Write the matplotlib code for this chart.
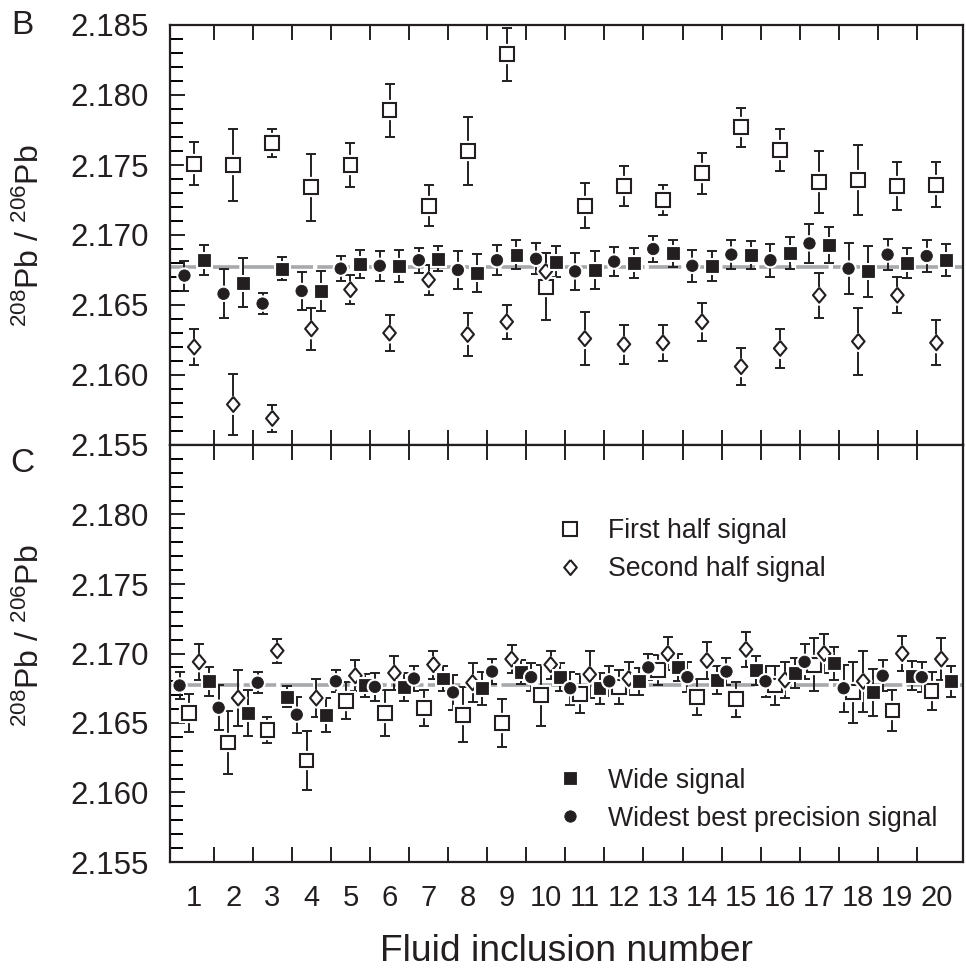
import matplotlib
matplotlib.use("Agg")
import matplotlib.pyplot as plt
import matplotlib.patheffects as pe
from matplotlib.lines import Line2D
from matplotlib.ticker import FormatStrFormatter
from matplotlib import font_manager
import numpy as np

_names = {f.name for f in font_manager.fontManager.ttflist}
NARROW = 'Liberation Sans Narrow' if 'Liberation Sans Narrow' in _names else 'Liberation Sans'

plt.rcParams['font.family'] = ['Liberation Sans', 'DejaVu Sans']
plt.rcParams['mathtext.fontset'] = 'custom'
plt.rcParams['mathtext.rm'] = NARROW
plt.rcParams['mathtext.it'] = NARROW + ':italic'
plt.rcParams['mathtext.bf'] = NARROW + ':bold'
plt.rcParams['mathtext.default'] = 'regular'

# ---------------- data ----------------
inclusions = np.arange(1, 21)
x_labels = [str(i) for i in inclusions]
reference_ratio = 2.1677

# Panel B
first_B = [2.1751, 2.1750, 2.1766, 2.1734, 2.1750, 2.1789, 2.1721, 2.1760, 2.1829, 2.1663,
           2.1721, 2.1735, 2.1725, 2.1744, 2.1777, 2.1761, 2.1738, 2.1739, 2.1735, 2.1736]
first_B_err = [0.00155, 0.0026, 0.0010, 0.0024, 0.00155, 0.0019, 0.00145, 0.0024, 0.0019, 0.0024,
               0.0016, 0.0014, 0.0011, 0.00145, 0.0014, 0.0015, 0.0022, 0.0025, 0.0017, 0.0016]
second_B = [2.1620, 2.1579, 2.1569, 2.1633, 2.1661, 2.1630, 2.1668, 2.1629, 2.1638, 2.1674,
            2.1626, 2.1622, 2.1623, 2.1638, 2.1606, 2.1619, 2.1657, 2.1624, 2.1657, 2.1623]
second_B_err = [0.0013, 0.0022, 0.00095, 0.0015, 0.00105, 0.0013, 0.00105, 0.00155, 0.0012, 0.0013,
                0.0019, 0.0014, 0.0013, 0.00135, 0.0013, 0.0014, 0.0016, 0.0024, 0.0013, 0.0016]
wide_B = [2.1682, 2.1666, 2.1676, 2.1660, 2.1679, 2.1678, 2.1683, 2.1673, 2.1686, 2.1681,
          2.1675, 2.1680, 2.1687, 2.1678, 2.1686, 2.1687, 2.1693, 2.1674, 2.1680, 2.1682]
wide_B_err = [0.00107, 0.00176, 0.0008, 0.0014, 0.0010, 0.00114, 0.0009, 0.00134, 0.00104, 0.00113,
              0.00134, 0.0011, 0.00095, 0.00108, 0.0010, 0.00115, 0.0013, 0.0018, 0.00108, 0.00114]
widest_B = [2.1671, 2.1658, 2.1651, 2.1660, 2.1676, 2.1678, 2.1682, 2.1675, 2.1682, 2.1683,
            2.1674, 2.1681, 2.1690, 2.1678, 2.1686, 2.1682, 2.1694, 2.1676, 2.1686, 2.1685]
widest_B_err = [0.00107, 0.00175, 0.00077, 0.00133, 0.0009, 0.00107, 0.0009, 0.00133, 0.00107, 0.0011,
                0.00134, 0.00105, 0.0009, 0.00113, 0.00104, 0.00117, 0.0014, 0.00182, 0.0011, 0.00117]

# Panel C
first_C = [2.1657, 2.1636, 2.1645, 2.1623, 2.1666, 2.1657, 2.1661, 2.1656, 2.1650, 2.1670,
           2.1671, 2.1676, 2.1688, 2.1669, 2.1667, 2.1677, 2.1692, 2.1672, 2.1659, 2.1673]
first_C_err = [0.00137, 0.00226, 0.00095, 0.0021, 0.00133, 0.00167, 0.0013, 0.0020, 0.0017, 0.0022,
               0.0014, 0.0012, 0.0011, 0.0013, 0.00126, 0.0014, 0.0019, 0.0022, 0.0015, 0.0014]
second_C = [2.1694, 2.1668, 2.1702, 2.1668, 2.1684, 2.1686, 2.1692, 2.1679, 2.1696, 2.1692,
            2.1685, 2.1682, 2.1700, 2.1695, 2.1703, 2.1681, 2.1700, 2.1680, 2.1700, 2.1696]
second_C_err = [0.0013, 0.0020, 0.00087, 0.00135, 0.0011, 0.0012, 0.0010, 0.0014, 0.0010, 0.0010,
                0.0017, 0.0012, 0.0012, 0.0013, 0.00125, 0.0013, 0.0014, 0.0022, 0.00125, 0.0015]
wide_C = [2.1680, 2.1657, 2.1669, 2.1656, 2.1677, 2.1676, 2.1682, 2.1675, 2.1687, 2.1683,
          2.1675, 2.1680, 2.1690, 2.1681, 2.1688, 2.1686, 2.1693, 2.1672, 2.1684, 2.1680]
wide_C_err = [0.00103, 0.00164, 0.00074, 0.00123, 0.00083, 0.0010, 0.00093, 0.00117, 0.00086, 0.0010,
              0.0011, 0.00095, 0.00095, 0.0010, 0.00105, 0.0011, 0.0012, 0.0017, 0.00105, 0.0011]
widest_C = [2.1677, 2.1661, 2.1679, 2.1656, 2.1680, 2.1676, 2.1682, 2.1672, 2.1687, 2.1683,
            2.1675, 2.1680, 2.1690, 2.1683, 2.1687, 2.1680, 2.1694, 2.1675, 2.1684, 2.1683]
widest_C_err = [0.0010, 0.0016, 0.00076, 0.0013, 0.00078, 0.0010, 0.0009, 0.00125, 0.0009, 0.0010,
                0.0012, 0.00107, 0.00093, 0.0011, 0.0010, 0.0011, 0.00125, 0.0017, 0.0011, 0.0011]

series_names = ["First half signal", "Second half signal", "Wide signal", "Widest best precision signal"]

# ---------------- style ----------------
INK = '#231f20'
GRAY = '#a7a9ac'
diamond = [(0, 1), (0.84, 0), (0, -1), (-0.84, 0), (0, 1)]
marker_styles = {
    "First half signal": dict(marker='s', ms=10.0, mfc='white', mew=1.5),
    "Second half signal": dict(marker=diamond, ms=10.8, mfc='white', mew=1.5),
    "Wide signal": dict(marker='s', ms=8.6, mfc=INK, mew=0.6),
    "Widest best precision signal": dict(marker='o', ms=8.2, mfc=INK, mew=0.6),
}

fig = plt.figure(figsize=(9.66, 9.71), dpi=100)
W, H = 966, 971
L, R = 170 / W, 963 / W
axB = fig.add_axes([L, 1 - 445 / H, R - L, 420 / H])
axC = fig.add_axes([L, 1 - 862 / H, R - L, 417 / H])


def draw_series(ax, x, y, e, name, z):
    st = marker_styles[name]
    ax.errorbar(x, y, yerr=e, fmt='none', ecolor=INK, elinewidth=1.4,
                capsize=3.4, capthick=1.4, zorder=2)
    ax.plot(x, y, linestyle='none', marker=st['marker'], ms=st['ms'],
            mfc=st['mfc'], mec=INK, mew=st['mew'], zorder=z,
            path_effects=[pe.withStroke(linewidth=st['mew'] + 3.0, foreground='white')])


def style_axes(ax, yticks, show_xlabels):
    ax.set_xlim(0.38, 20.68)
    ax.set_ylim(2.155, 2.185)
    for s in ax.spines.values():
        s.set_linewidth(1.6)
        s.set_color(INK)
    ax.set_yticks(yticks)
    ax.yaxis.set_major_formatter(FormatStrFormatter('%.3f'))
    ax.set_yticks(np.round(np.arange(2.156, 2.185, 0.001), 3), minor=True)
    ax.tick_params(axis='y', which='major', direction='in', length=10.5, width=1.4,
                   left=True, right=False, labelsize=22.5, pad=15.0, colors=INK)
    ax.tick_params(axis='y', which='minor', direction='in', length=9, width=1.4,
                   left=True, right=False)
    ax.set_xticks(inclusions[:-1] + 0.5)
    ax.set_xticklabels([])
    ax.tick_params(axis='x', which='major', direction='in', length=11, width=1.4,
                   top=True, bottom=True, colors=INK)
    ax.set_xticks(inclusions, minor=True)
    if show_xlabels:
        ax.set_xticklabels(x_labels, minor=True)
    ax.tick_params(axis='x', which='minor', length=0, top=False, bottom=True,
                   labelsize=21, pad=16, labelcolor=INK)


ref_style = dict(color=GRAY, lw=2.6, linestyle=(0, (9, 1.2)), zorder=1)

# Panel B
axB.axhline(reference_ratio, **ref_style)
offB = [0.0, 0.0, 0.25, -0.25]
for (vals, errs), name, off, z in zip(
        [(first_B, first_B_err), (second_B, second_B_err), (wide_B, wide_B_err), (widest_B, widest_B_err)],
        series_names, offB, [3, 4, 5, 6]):
    draw_series(axB, inclusions + off, vals, errs, name, z)
style_axes(axB, np.round(np.arange(2.155, 2.1851, 0.005), 3), False)

# Panel C
axC.axhline(reference_ratio, **ref_style)
offC = [-0.125, 0.125, 0.375, -0.375]
for (vals, errs), name, off, z in zip(
        [(first_C, first_C_err), (second_C, second_C_err), (wide_C, wide_C_err), (widest_C, widest_C_err)],
        series_names, offC, [3, 4, 5, 6]):
    draw_series(axC, inclusions + off, vals, errs, name, z)
style_axes(axC, np.round(np.arange(2.155, 2.1801, 0.005), 3), True)

# Legends (two groups)
def handle(name):
    st = marker_styles[name]
    return Line2D([], [], linestyle='none', marker=st['marker'], ms=st['ms'],
                  mfc=st['mfc'], mec=INK, mew=st['mew'])

leg_kw = dict(loc='upper left', frameon=False, fontsize=19.2, handlelength=1.0,
              handletextpad=0.92, labelspacing=0.45, borderpad=0, borderaxespad=0,
              bbox_transform=fig.transFigure, labelcolor=INK)
leg1 = axC.legend([handle(n) for n in series_names[:2]], series_names[:2],
                  bbox_to_anchor=(557 / W, 1 - 518.0 / H), **leg_kw)
axC.add_artist(leg1)
leg2 = axC.legend([handle(n) for n in series_names[2:]], series_names[2:],
                  bbox_to_anchor=(557 / W, 1 - 767.5 / H), **leg_kw)

# Axis labels and panel letters
ylab = r'$^{208}$Pb / $^{206}$Pb'
ysize = 28 if NARROW != 'Liberation Sans' else 23
fig.text(30 / W, 1 - 236 / H, ylab, rotation=90, ha='center', va='center', fontsize=ysize, color=INK)
fig.text(30 / W, 1 - 636 / H, ylab, rotation=90, ha='center', va='center', fontsize=ysize, color=INK)
fig.text(566 / W, 1 - 961.0 / H, 'Fluid inclusion number', ha='center', va='baseline',
         fontsize=26.8, color=INK)
fig.text(22 / W, 1 - 25 / H, 'B', ha='center', va='center', fontsize=24, color=INK)
fig.text(22 / W, 1 - 463 / H, 'C', ha='center', va='center', fontsize=24, color=INK)

fig.savefig('out.png', dpi=100)
